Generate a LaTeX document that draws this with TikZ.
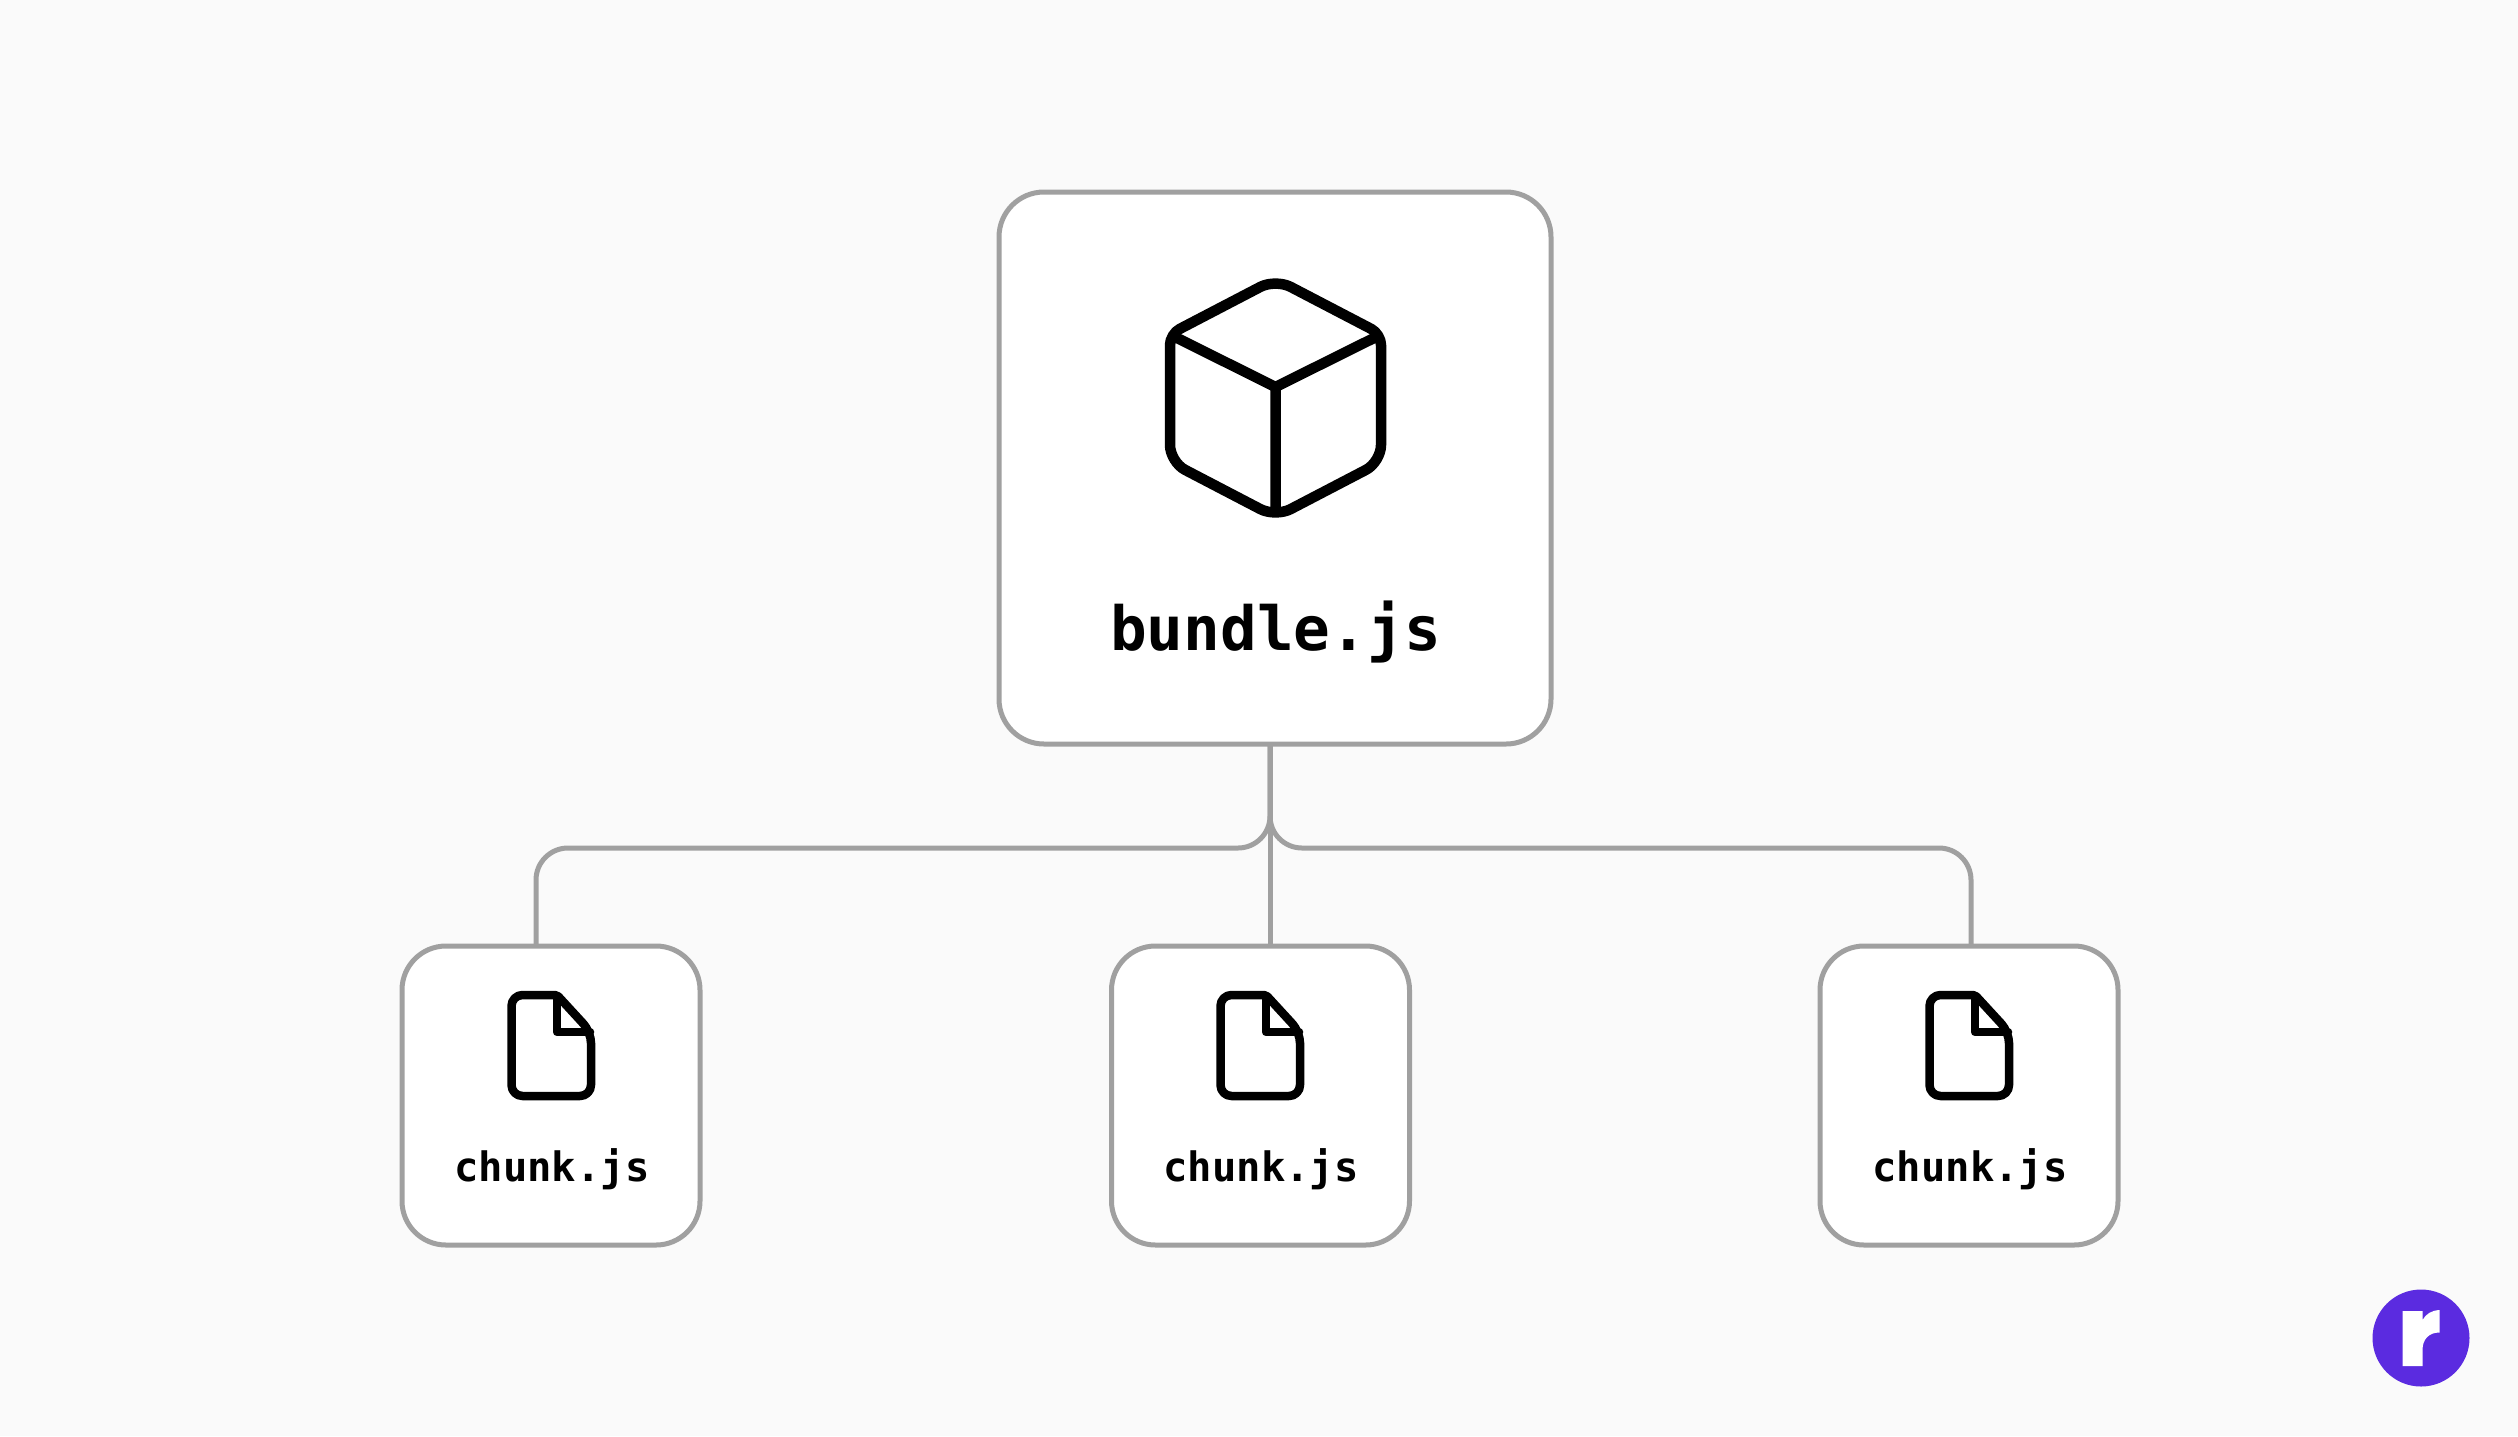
\documentclass[tikz,border=0pt]{standalone}
\usepackage{fontspec}
\setmonofont{DejaVu Sans Mono}
\definecolor{pagebg}{HTML}{FAFAFA}
\definecolor{edgegray}{HTML}{A0A0A0}
\definecolor{logopurple}{HTML}{5B2BE0}
\tikzset{
    card/.style={draw=edgegray, line width=5pt, fill=white, outer sep=0pt, inner sep=0pt},
    link/.style={draw=edgegray, line width=5pt, rounded corners=32pt},
    iconline/.style={draw=black, line join=round, line cap=round},
    fileicon/.pic={
        \draw[iconline, line width=8.5pt, rounded corners=11pt]
            (-40.5,-51) -- (-40.5,50) -- (39,50) -- (39,-14)
            [rounded corners=2pt] -- (5,-51) [rounded corners=11pt] -- cycle;
        \draw[iconline, line width=8.5pt]
            (5,-48) -- (5,-14) -- (38,-14);
    }
}
\begin{document}
\begin{tikzpicture}[x=1pt, y=-1pt]

        \fill[pagebg]
            (0,0) rectangle (2518,1436);

        \node[card, rounded corners=45pt, minimum width=552pt, minimum height=552pt]
            (bundle) at (1275,468) {};
        \foreach \name/\x in {chunkleft/551, chunkmid/1260.5, chunkright/1969}
            \node[card, rounded corners=44pt, minimum width=298pt, minimum height=299pt]
                (\name) at (\x,1095.5) {};

        \coordinate (trunk) at ([xshift=-5]bundle.south);
        \coordinate (rail) at (1270,848);
        \coordinate (stubleft) at ([xshift=-15]chunkleft.north);
        \coordinate (stubmid) at ([xshift=9.5]chunkmid.north);
        \coordinate (stubright) at ([xshift=2]chunkright.north);

        \draw[link]
            (trunk) -- (rail) -- (stubleft |- rail) -- (stubleft);
        \draw[link]
            (trunk) -- (rail) -- (stubright |- rail) -- (stubright);
        \draw[link]
            (trunk) -- (stubmid);

        \draw[iconline, line width=10.5pt, rounded corners=17pt]
            (1275.5,279) [rounded corners=11pt] -- (1381,334) [rounded corners=17pt] -- (1381,462) -- (1275.5,517) -- (1170,462)
            [rounded corners=11pt] -- (1170,334) [rounded corners=17pt] -- cycle;
        \draw[iconline, line width=10.5pt]
            (1177,338) -- (1275.5,387) -- (1374,338)
            (1275.5,387) -- (1275.5,510);

        \node[anchor=base, font=\fontsize{61}{61}\ttfamily\bfseries]
            (bundlelabel) at (1275.5,650) {bundle.js};

        \foreach \name/\x in {chunkleft/552, chunkmid/1261, chunkright/1970} {
            \pic at (\x,1046) {fileicon};
            \node[anchor=base, font=\fontsize{40.5}{40.5}\ttfamily\bfseries]
                (\name label) at (\x,1181) {chunk.js};
        }

        \node[circle, fill=logopurple, minimum size=97pt, inner sep=0pt]
            (logo) at (2421,1338) {};
        \fill[white]
            (2402.5,1311) -- (2422.5,1311) -- (2422.5,1320)
            .. controls (2426,1314) and (2431,1310.5) .. (2439.5,1310)
            -- (2439.5,1332.5)
            .. controls (2429,1332.5) and (2422.5,1339) .. (2422.5,1350)
            -- (2422.5,1366) -- (2402.5,1366) -- cycle;

    \end{tikzpicture}
\end{document}
